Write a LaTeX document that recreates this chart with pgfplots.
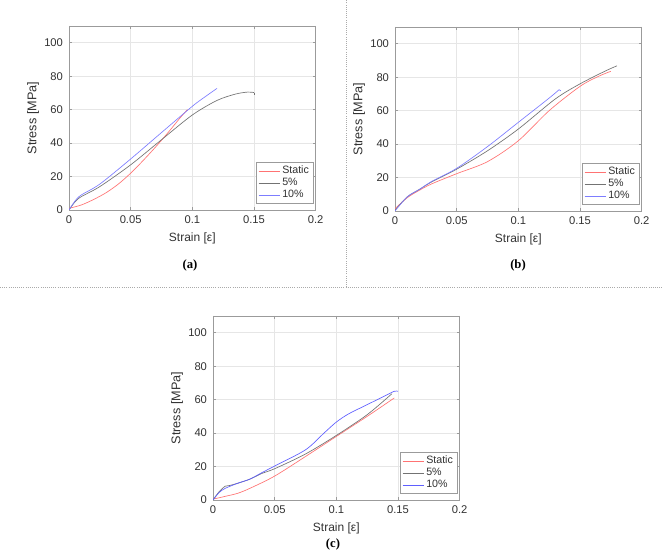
\documentclass[border=0pt]{standalone}
\usepackage{pgfplots}
\pgfplotsset{compat=1.18}
\usepackage{fontspec}
\setmainfont{Liberation Sans}
\newfontfamily\capfont{Liberation Serif}

\definecolor{txt}{RGB}{50,50,50}
\definecolor{boxc}{RGB}{155,155,155}
\definecolor{gridc}{RGB}{230,230,230}
\definecolor{cstatic}{RGB}{255,115,115}
\definecolor{cfive}{RGB}{115,115,115}
\definecolor{cten}{RGB}{125,125,255}
\definecolor{ctenc}{RGB}{95,95,255}
\definecolor{sepc}{RGB}{170,170,170}

\pgfplotsset{
  ssplot/.style={
    scale only axis,
    width=185pt, height=138pt,
    xmin=0, xmax=0.2, ymin=0, ymax=110,
    xtick={0,0.05,0.1,0.15,0.2},
    xticklabels={0,0.05,0.1,0.15,0.2},
    ytick={0,20,40,60,80,100},
    yticklabels={0,20,40,60,80,100},
    grid=major,
    major grid style={draw=gridc, line width=0.4pt},
    axis line style={draw=boxc, line width=0.5pt},
    tick align=inside,
    major tick length=2pt,
    every tick/.style={draw=boxc, line width=0.4pt},
    tick label style={font=\fontsize{8.4}{10}\selectfont, text=txt},
    xlabel style={font=\fontsize{9}{10.5}\selectfont, text=txt},
    ylabel style={font=\fontsize{9.5}{11}\selectfont, text=txt},
    xlabel={Strain [ε]},
    ylabel={Stress [MPa]},
    xticklabel style={yshift=-1pt},
    yticklabel style={xshift=-1pt},
    ylabel style={yshift=-3pt},
    legend cell align=left,
    legend style={
      at={(rel axis cs:0.99,0.035)}, anchor=south east,
      draw=boxc, line width=0.4pt, fill=white,
      font=\fontsize{8}{9}\selectfont, text=txt,
      inner xsep=1.5pt, inner ysep=1pt, row sep=-1pt,
      nodes={inner sep=1.5pt},
    },
    legend image code/.code={\draw[#1, sharp plot] (0pt,0pt) -- (16pt,0pt);},
    every axis plot/.append style={line width=0.5pt, smooth, no marks},
  }
}

\begin{document}
\begin{tikzpicture}
\useasboundingbox (0,0) rectangle (497.25pt,414pt);

% panel separators
\draw[sepc, densely dotted, line width=0.6pt] (0pt,198.75pt) -- (497.25pt,198.75pt);
\draw[sepc, densely dotted, line width=0.6pt] (259.5pt,198.75pt) -- (259.5pt,414pt);

% (a)
\begin{axis}[ssplot, at={(51.75pt,256.5pt)}, anchor=south west]
\addplot[draw=cstatic] coordinates {
 (0,1) (0.01,3) (0.02,6.3) (0.03,10.3) (0.04,15.5) (0.05,22) (0.06,29.5)
 (0.07,37.5) (0.08,46) (0.09,55) (0.096,60)};
\addplot[draw=cfive] coordinates {
 (0,0) (0.005,5) (0.01,8) (0.025,14) (0.05,27) (0.075,42) (0.1,56.8)
 (0.12,65.5) (0.135,69.3) (0.145,70.5) (0.15,70.2)};
\addplot[draw=cten] coordinates {
 (0,0) (0.005,5.5) (0.01,9) (0.025,15.5) (0.05,30.5) (0.075,46.3) (0.1,62)
 (0.11,67.5) (0.12,72.7)};
\addplot[draw=cfive, sharp plot, forget plot] coordinates {(0.15,70.2) (0.15,68.6)};
\legend{Static,5\%,10\%}
\end{axis}
\node[font=\capfont\bfseries\fontsize{9.5}{11}\selectfont, text=black] at (142.5pt,215.25pt) {(a)};

% (b)
\begin{axis}[ssplot, at={(296.25pt,255.75pt)}, anchor=south west]
\addplot[draw=cstatic] coordinates {
 (0,1.4) (0.01,8) (0.02,12.5) (0.03,16.3) (0.05,22.3) (0.075,29.5)
 (0.1,42) (0.125,60) (0.15,74.5) (0.165,80.5) (0.175,83.5)};
\addplot[draw=cfive] coordinates {
 (0,0.5) (0.01,8.5) (0.02,13) (0.03,17.5) (0.05,25) (0.075,36) (0.1,49)
 (0.13,67) (0.15,76) (0.17,83.5) (0.18,86.8)};
\addplot[draw=cten] coordinates {
 (0,0) (0.01,8.5) (0.02,13) (0.03,17.8) (0.05,25.5) (0.075,38.5)
 (0.1,53) (0.125,67.5) (0.133,72.5)};
\addplot[draw=cten, sharp plot, forget plot] coordinates {(0.133,72.5) (0.1345,71.8)};
\legend{Static,5\%,10\%}
\end{axis}
\node[font=\capfont\bfseries\fontsize{9.5}{11}\selectfont, text=black] at (388.5pt,215.25pt) {(b)};

% (c)
\begin{axis}[ssplot, at={(159.75pt,39pt)}, anchor=south west]
\addplot[draw=cstatic] coordinates {
 (0,0.5) (0.01,2.2) (0.02,4) (0.03,7) (0.05,14.3) (0.075,26) (0.1,38)
 (0.125,50) (0.147,61)};
\addplot[draw=cfive] coordinates {
 (0,0) (0.005,5) (0.01,8.3) (0.013,8.6) (0.02,10) (0.03,12.5) (0.04,16)
 (0.05,18.7) (0.075,27.5) (0.1,38.6) (0.125,51) (0.145,63.5)};
\addplot[draw=ctenc] coordinates {
 (0,0) (0.005,4.5) (0.01,7) (0.02,10) (0.03,12.5) (0.04,16.5) (0.05,20.3)
 (0.075,30) (0.09,40) (0.1,46.6) (0.11,51.5) (0.125,57) (0.14,62.5)
 (0.147,65) (0.15,65)};
\legend{Static,5\%,10\%}
\end{axis}
\node[font=\capfont\bfseries\fontsize{9.5}{11}\selectfont, text=black] at (249.75pt,6pt) {(c)};
\end{tikzpicture}
\end{document}
